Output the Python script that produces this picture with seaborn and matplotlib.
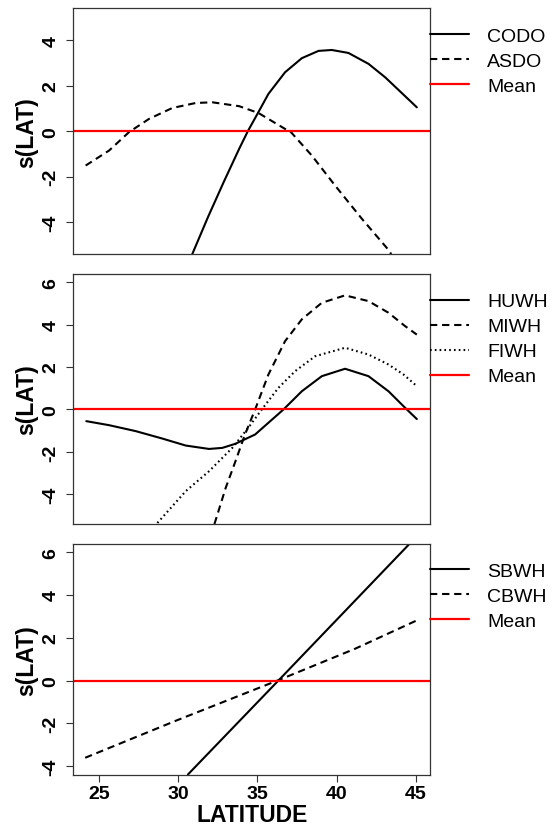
import numpy as np
import pandas as pd
import matplotlib
matplotlib.use("Agg")
import matplotlib.pyplot as plt
import seaborn as sns

# ── Datos ───────────────────────────────────────────────────────────
codo_lat = [30.90, 31.90, 32.90, 33.85, 34.40, 35.07, 35.70, 36.75, 37.81,
            38.86, 39.70, 40.75, 42.02, 43.07, 44.33, 45.07]
codo_s = [-5.39, -3.75, -2.20, -0.78, 0.00, 0.84, 1.64, 2.59, 3.21,
          3.53, 3.57, 3.44, 2.96, 2.37, 1.54, 1.05]

asdo_lat = [24.16, 25.64, 26.90, 28.16, 29.63, 31.11, 32.16, 33.85, 35.07,
            36.75, 37.07, 38.44, 39.91, 41.60, 43.32, 43.45]
asdo_s = [-1.51, -0.85, -0.04, 0.54, 1.02, 1.24, 1.27, 1.10, 0.80,
          0.10, 0.00, -1.07, -2.39, -3.85, -5.25, -5.40]

huwh_lat = [24.20, 25.64, 27.32, 29.00, 30.48, 31.95, 32.79, 33.60, 34.86,
            36.65, 37.81, 39.07, 40.54, 42.02, 43.28, 44.33, 45.07]
huwh_s = [-0.55, -0.74, -1.02, -1.37, -1.70, -1.86, -1.81, -1.62, -1.18,
          0.00, 0.86, 1.57, 1.92, 1.57, 0.86, 0.08, -0.45]

miwh_lat = [32.29, 32.38, 33.00, 33.59, 34.22, 34.86, 35.70, 36.75, 37.81,
            39.07, 40.54, 42.02, 43.28, 44.33, 45.07]
miwh_s = [-5.40, -5.19, -3.70, -2.50, -1.18, 0.00, 1.65, 3.22, 4.25,
          5.03, 5.38, 5.11, 4.56, 3.93, 3.53]

fiwh_lat = [28.69, 30.48, 31.95, 33.42, 34.43, 35.28, 36.33, 37.39, 38.65,
            40.54, 42.02, 43.28, 44.23, 45.07]
fiwh_s = [-5.35, -3.85, -2.91, -1.81, -0.86, 0.00, 1.02, 1.81, 2.51,
          2.91, 2.59, 2.12, 1.65, 1.10]

sbwh_lat = [30.62, 36.33, 44.62]
sbwh_s = [-4.39, 0.00, 6.40]

cbwh_lat = [24.13, 29.95, 36.44, 41.15, 45.18]
cbwh_s = [-3.61, -1.85, 0.05, 1.48, 2.85]

x_ticks = [25, 30, 35, 40, 45]

# ── Estilo ──────────────────────────────────────────────────────────
sns.set_style("ticks")
plt.rcParams.update({
    "font.family": ["Liberation Sans", "DejaVu Sans"],
    "text.color": "black",
    "axes.labelcolor": "black",
    "xtick.color": "black",
    "ytick.color": "black",
})

DASH = (0, (3.5, 2.3))
DOT = (0, (0.8, 1.5))

fig = plt.figure(figsize=(5.57, 8.28), dpi=100)

paneles = [
    # (rect, ylim, yticks, series, legend_y, show_x)
    ([0.1316, 0.6920, 0.6409, 0.2967], (-5.4, 5.4), [-4, -2, 0, 2, 4],
     [("CODO", codo_lat, codo_s, "-"), ("ASDO", asdo_lat, asdo_s, DASH)],
     0.785, False),
    ([0.1316, 0.3659, 0.6409, 0.3023], (-5.4, 6.4), [-4, -2, 0, 2, 4, 6],
     [("HUWH", huwh_lat, huwh_s, "-"), ("MIWH", miwh_lat, miwh_s, DASH),
      ("FIWH", fiwh_lat, fiwh_s, DOT)],
     0.739, False),
    ([0.1316, 0.0632, 0.6409, 0.2790], (-4.4, 6.4), [-4, -2, 0, 2, 4, 6],
     [("SBWH", sbwh_lat, sbwh_s, "-"), ("CBWH", cbwh_lat, cbwh_s, DASH)],
     0.772, True),
]

for rect, ylim, yticks, series, leg_y, show_x in paneles:
    ax = fig.add_axes(rect)
    for nombre, lat, s, ls in series:
        df = pd.DataFrame({"lat": lat, "s": s})
        sns.lineplot(data=df, x="lat", y="s", ax=ax, color="black",
                     linewidth=1.5, linestyle=ls, label=nombre, sort=False)
    ax.axhline(0, color="#ff0000", linewidth=1.6, label="Mean")

    ax.set_xlim(23.38, 45.92)
    ax.set_ylim(*ylim)
    ax.set_yticks(yticks)
    ax.set_yticklabels([str(t) for t in yticks], rotation=90, va="center",
                       fontsize=14, fontweight="bold")
    ax.set_ylabel("s(LAT)", fontsize=16.5, fontweight="bold", labelpad=3)
    if show_x:
        ax.set_xticks(x_ticks)
        ax.set_xticklabels([str(t) for t in x_ticks], fontsize=14,
                           fontweight="bold")
        ax.set_xlabel("LATITUDE", fontsize=16.5, fontweight="bold", labelpad=1)
    else:
        ax.set_xticks([])
        ax.set_xlabel("")
    ax.tick_params(axis="y", length=4.8, width=0.8, color="#333333", pad=5)
    ax.tick_params(axis="x", length=4.8, width=0.8, color="#333333", pad=2.4)
    for spine in ax.spines.values():
        spine.set_visible(True)
        spine.set_color("#333333")
        spine.set_linewidth(0.9)

    ax.legend(loc="center left", bbox_to_anchor=(1.0, leg_y), frameon=False,
              fontsize=14, borderaxespad=0, borderpad=0,
              handlelength=2.0, handletextpad=0.93, labelspacing=0.38)

plt.savefig("out.png", dpi=100)
